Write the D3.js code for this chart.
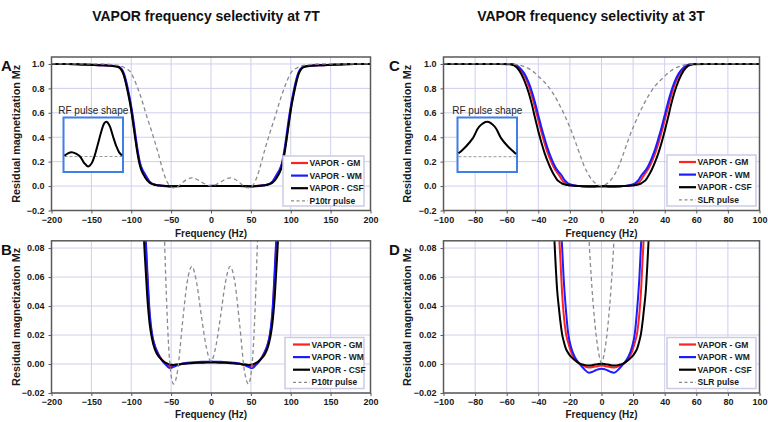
<!DOCTYPE html>
<html><head><meta charset="utf-8">
<script src="https://cdn.jsdelivr.net/npm/d3@7"></script>
<style>
body{margin:0;background:#fff}
svg{display:block}
text{font-family:Arial,"Liberation Sans",Helvetica,sans-serif}
</style>
</head><body>
<svg id="chart" width="768" height="422"></svg>
<script>
// ---------------- data ----------------
const freq7 = [-200,-180,-160,-140,-125,-118,-114,-110,-107,-104,-101,-98,-95,-92,-89,-86,-83,-80,-77,-74,-71,-68,-64,-60,-56,-52,-47,-42,-36,-30,-24,-18,-12,-6,0,6,12,18,24,30,36,42,47,52,56,60,64,68,71,74,77,80,83,86,89,92,95,98,101,104,107,110,114,118,125,140,160,180,200];
const gm7 = [1.0,1.0,0.995,0.99,0.985,0.979,0.967,0.925,0.86,0.77,0.67,0.545,0.405,0.28,0.18,0.125,0.095,0.062,0.034,0.02,0.0135,0.0092,0.005,0.002,-0.0002,-0.0015,-0.0012,-0.0004,0.0002,0.0006,0.0009,0.0011,0.0012,0.0013,0.0014,0.0013,0.0012,0.0011,0.0009,0.0006,0.0002,-0.0004,-0.0012,-0.0015,-0.0002,0.002,0.005,0.0092,0.0135,0.02,0.034,0.062,0.095,0.125,0.18,0.28,0.405,0.545,0.67,0.77,0.86,0.925,0.967,0.979,0.985,0.99,0.995,1.0,1.0];
const wm7 = [1.0,1.0,0.995,0.99,0.986,0.98,0.97,0.935,0.875,0.79,0.69,0.57,0.43,0.295,0.19,0.135,0.1,0.066,0.036,0.021,0.0135,0.009,0.0045,0.0015,-0.0009,-0.0028,-0.002,-0.0008,0.0002,0.0008,0.0011,0.0013,0.0015,0.0016,0.0017,0.0016,0.0015,0.0013,0.0011,0.0008,0.0002,-0.0008,-0.002,-0.0028,-0.0009,0.0015,0.0045,0.009,0.0135,0.021,0.036,0.066,0.1,0.135,0.19,0.295,0.43,0.57,0.69,0.79,0.875,0.935,0.97,0.98,0.986,0.99,0.995,1.0,1.0];
const csf7 = [1.0,1.0,0.995,0.99,0.985,0.978,0.965,0.92,0.85,0.76,0.66,0.53,0.39,0.26,0.165,0.11,0.075,0.047,0.028,0.0175,0.011,0.0072,0.0042,0.002,0.0006,-0.0004,-0.0006,-0.0003,0.0001,0.0004,0.0006,0.0008,0.0009,0.001,0.001,0.001,0.0009,0.0008,0.0006,0.0004,0.0001,-0.0003,-0.0006,-0.0004,0.0006,0.002,0.0042,0.0072,0.011,0.0175,0.028,0.047,0.075,0.11,0.165,0.26,0.39,0.53,0.66,0.76,0.85,0.92,0.965,0.978,0.985,0.99,0.995,1.0,1.0];
const p10tr = [1.0,1.0,1.0,1.0,0.995,0.99,0.984,0.975,0.965,0.953,0.935,0.9,0.855,0.805,0.75,0.69,0.625,0.56,0.5,0.44,0.375,0.31,0.215,0.12,0.048,0.003,-0.0138,-0.005,0.027,0.056,0.0674,0.056,0.033,0.012,0.0018,0.012,0.033,0.056,0.0674,0.056,0.027,-0.005,-0.0138,0.003,0.048,0.12,0.215,0.31,0.375,0.44,0.5,0.56,0.625,0.69,0.75,0.805,0.855,0.9,0.935,0.953,0.965,0.975,0.984,0.99,0.995,1.0,1.0,1.0,1.0];

const freq3 = [-100,-80,-65,-58,-55,-52,-49,-46,-44,-42,-40,-38,-36,-34,-32,-30,-28,-27,-26,-25,-24,-22.5,-21,-19.5,-17,-14,-11,-8,-6,-4,-2,0,2,4,6,8,11,14,17,19.5,21,22.5,24,25,26,27,28,30,32,34,36,38,40,42,44,46,49,52,55,58,65,80,100];
const gm3 = [1,1,1,0.999,0.992,0.965,0.91,0.82,0.735,0.64,0.54,0.44,0.35,0.27,0.205,0.15,0.11,0.092,0.072,0.05,0.035,0.021,0.0145,0.009,0.0035,0.0002,-0.0015,-0.0024,-0.0022,-0.0018,-0.0014,-0.0011,-0.0014,-0.0018,-0.0022,-0.0024,-0.0015,0.0002,0.0035,0.009,0.0145,0.021,0.035,0.05,0.072,0.092,0.11,0.15,0.205,0.27,0.35,0.44,0.54,0.64,0.735,0.82,0.91,0.965,0.992,0.999,1,1,1];
const wm3 = [1,1,1,0.999,0.994,0.972,0.925,0.845,0.77,0.68,0.58,0.48,0.39,0.305,0.235,0.175,0.13,0.115,0.1,0.082,0.06,0.037,0.0204,0.0125,0.005,0.0002,-0.0035,-0.006,-0.0055,-0.0045,-0.0036,-0.0032,-0.0036,-0.0045,-0.0055,-0.006,-0.0035,0.0002,0.005,0.0125,0.0204,0.037,0.06,0.082,0.1,0.115,0.13,0.175,0.235,0.305,0.39,0.48,0.58,0.68,0.77,0.845,0.925,0.972,0.994,0.999,1,1,1];
const csf3 = [1,1,1,0.998,0.985,0.945,0.87,0.76,0.665,0.555,0.45,0.355,0.27,0.2,0.14,0.09,0.05,0.039,0.029,0.021,0.016,0.0105,0.0075,0.0052,0.0028,0.0004,-0.0006,-0.001,-0.0008,-0.0004,0,0.0002,0,-0.0004,-0.0008,-0.001,-0.0006,0.0004,0.0028,0.0052,0.0075,0.0105,0.016,0.021,0.029,0.039,0.05,0.09,0.14,0.2,0.27,0.355,0.45,0.555,0.665,0.76,0.87,0.945,0.985,0.998,1,1,1];
const slr = [1,1,1,1,0.997,0.99,0.978,0.962,0.945,0.925,0.9,0.875,0.85,0.82,0.785,0.745,0.7,0.675,0.65,0.625,0.598,0.555,0.51,0.465,0.38,0.27,0.165,0.088,0.052,0.026,0.009,0.0008,0.009,0.026,0.052,0.088,0.165,0.27,0.38,0.465,0.51,0.555,0.598,0.625,0.65,0.675,0.7,0.745,0.785,0.82,0.85,0.875,0.9,0.925,0.945,0.962,0.978,0.99,0.997,1,1,1,1];

const xTicks7 = [-200,-150,-100,-50,0,50,100,150,200];
const xTicks3 = [-100,-80,-60,-40,-20,0,20,40,60,80,100];
const yTicksFull = [-0.2,0,0.2,0.4,0.6,0.8,1.0];
const yTicksZoom = [-0.02,0,0.02,0.04,0.06,0.08];

const names7 = ["VAPOR - GM","VAPOR - WM","VAPOR - CSF","P10tr pulse"];
const names3 = ["VAPOR - GM","VAPOR - WM","VAPOR - CSF","SLR pulse"];

// RF pulse shape insets (normalised time, relative amplitude)
const pulseT7 = [0,0.06,0.125,0.2,0.27,0.34,0.41,0.47,0.52,0.58,0.64,0.69,0.73,0.78,0.845,0.9,0.95,1.0];
const pulseA7 = [0.02,0.09,0.12,0.08,0.0,-0.18,-0.29,-0.2,0.0,0.35,0.72,0.95,1.0,0.9,0.57,0.3,0.12,0.03];
const pulseT3 = [0,0.06,0.13,0.25,0.36,0.5,0.63,0.74,0.86,0.94,1.0];
const pulseA3 = [0.1,0.18,0.29,0.53,0.86,1.0,0.86,0.53,0.29,0.17,0.08];

const titles = ["VAPOR frequency selectivity at 7T","VAPOR frequency selectivity at 3T"];

// ---------------- styles ----------------
const colors = ["#ff2020","#1c1cff","#000000","#8a8a8a"];
const gridColor = "#cfcfee";
const borderColor = "#5a5a5a";
const textColor = "#1a1a1a";

const svg = d3.select("#chart");

function panel(cfg){
  const g = svg.append("g");
  const x = d3.scaleLinear().domain(cfg.xdom).range([cfg.x0, cfg.x1]);
  const y = d3.scaleLinear().domain(cfg.ydom).range([cfg.yb, cfg.yt]);
  const id = "clip" + cfg.letter;
  svg.append("clipPath").attr("id", id).append("rect")
    .attr("x", cfg.x0).attr("y", cfg.yt).attr("width", cfg.x1 - cfg.x0).attr("height", cfg.yb - cfg.yt);

  // grid
  g.append("g").selectAll("line").data(cfg.xticks).join("line")
    .attr("x1", d => x(d)).attr("x2", d => x(d)).attr("y1", cfg.yt).attr("y2", cfg.yb)
    .attr("stroke", gridColor).attr("stroke-width", 1);
  g.append("g").selectAll("line").data(cfg.yticks).join("line")
    .attr("x1", cfg.x0).attr("x2", cfg.x1).attr("y1", d => y(d)).attr("y2", d => y(d))
    .attr("stroke", gridColor).attr("stroke-width", 1);

  // series
  const lg = g.append("g").attr("clip-path", `url(#${id})`);
  cfg.series.forEach((vals, i) => {
    const pts = cfg.freq.map((f, k) => [f, vals[k]]);
    const line = d3.line().x(d => x(d[0])).y(d => y(d[1])).curve(d3.curveMonotoneX);
    lg.append("path").attr("d", line(pts)).attr("fill", "none")
      .attr("stroke", colors[i])
      .attr("stroke-width", i === 3 ? 1.3 : 2)
      .attr("stroke-dasharray", i === 3 ? "4,3" : null)
      .attr("stroke-linejoin", "round");
  });

  // border
  g.append("rect").attr("x", cfg.x0).attr("y", cfg.yt).attr("width", cfg.x1 - cfg.x0).attr("height", cfg.yb - cfg.yt)
    .attr("fill", "none").attr("stroke", borderColor).attr("stroke-width", 1.5);

  // axes
  const ax = g.append("g").attr("transform", `translate(0,${cfg.yb})`)
    .call(d3.axisBottom(x).tickValues(cfg.xticks).tickSize(3).tickPadding(3).tickFormat(d3.format("d")));
  const ay = g.append("g").attr("transform", `translate(${cfg.x0},0)`)
    .call(d3.axisLeft(y).tickValues(cfg.yticks).tickSize(3).tickPadding(4).tickFormat(cfg.yfmt));
  [ax, ay].forEach(a => {
    a.select(".domain").remove();
    a.selectAll(".tick line").attr("stroke", borderColor);
    a.selectAll(".tick text").attr("font-size", 9).attr("font-weight", "bold").attr("fill", textColor)
      .attr("font-family", "Arial, 'Liberation Sans', sans-serif");
  });

  // axis titles
  g.append("text").attr("x", (cfg.x0 + cfg.x1) / 2).attr("y", cfg.xTitleY).attr("text-anchor", "middle")
    .attr("font-size", 10).attr("font-weight", "bold").attr("fill", textColor).text("Frequency (Hz)");
  g.append("text").attr("transform", `translate(${cfg.yTitleX},${(cfg.yt + cfg.yb) / 2}) rotate(-90)`)
    .attr("text-anchor", "middle").attr("font-size", 10.8).attr("font-weight", "bold").attr("fill", textColor)
    .text("Residual magnetization Mz");

  // panel letter
  g.append("text").attr("x", cfg.letterX).attr("y", cfg.letterY).attr("font-size", 15).attr("font-weight", "bold")
    .attr("fill", "#111").text(cfg.letter);

  // legend
  const L = cfg.legend;
  const lgd = g.append("g");
  lgd.append("rect").attr("x", L.x).attr("y", L.y).attr("width", L.w).attr("height", L.h)
    .attr("fill", "#fff").attr("stroke", "#cbcbe6").attr("stroke-width", 1.5);
  cfg.names.forEach((n, i) => {
    const ry = L.y + 7 + i * 12.6;
    lgd.append("line").attr("x1", L.x + L.sw0).attr("x2", L.x + L.sw1).attr("y1", ry).attr("y2", ry)
      .attr("stroke", colors[i]).attr("stroke-width", i === 3 ? 1.2 : 2.2)
      .attr("stroke-dasharray", i === 3 ? "3,2.5" : null);
    lgd.append("text").attr("x", L.x + L.sw1 + 1.5).attr("y", ry + 3).attr("font-size", 8.5).attr("font-weight", "bold")
      .attr("fill", textColor).text(n);
  });

  // inset
  if (cfg.inset) {
    const I = cfg.inset;
    const ig = g.append("g");
    ig.append("text").attr("x", (I.x0 + I.x1) / 2).attr("y", I.y0 - 4).attr("text-anchor", "middle")
      .attr("font-size", 10).attr("fill", "#222").text("RF pulse shape");
    ig.append("rect").attr("x", I.x0).attr("y", I.y0).attr("width", I.x1 - I.x0).attr("height", I.y1 - I.y0)
      .attr("fill", "#fff").attr("stroke", "#3f7fe8").attr("stroke-width", 2);
    const ix = d3.scaleLinear().domain([0, 1]).range([I.x0 + 1, I.x1 - 1]);
    const iy = d3.scaleLinear().domain([0, 1]).range([I.base, I.peak]);
    ig.append("line").attr("x1", I.x0 + 1).attr("x2", I.x1 - 1).attr("y1", iy(0)).attr("y2", iy(0))
      .attr("stroke", "#999").attr("stroke-width", 1).attr("stroke-dasharray", "3,2");
    const pts = I.t.map((t, k) => [t, I.a[k]]);
    ig.append("path").attr("d", d3.line().x(d => ix(d[0])).y(d => iy(d[1])).curve(d3.curveCatmullRom)(pts))
      .attr("fill", "none").attr("stroke", "#000").attr("stroke-width", 2);
  }
}

const fmt1 = d3.format(".1f"), fmt2 = d3.format(".2f");

panel({letter:"A", x0:51.5, x1:370.5, yt:57, yb:210.5, xdom:[-200,200], ydom:[-0.2,1.057],
  freq:freq7, series:[gm7,wm7,csf7,p10tr], xticks:xTicks7, yticks:yTicksFull, yfmt:fmt1,
  xTitleY:237, yTitleX:20, letterX:1, letterY:71, names:names7,
  legend:{x:283, y:156, w:81, h:50, sw0:8, sw1:25},
  inset:{x0:63.5, x1:123, y0:117.5, y1:172, base:156.5, peak:121.7, t:pulseT7, a:pulseA7}});
panel({letter:"B", x0:51.5, x1:370.5, yt:240.8, yb:393, xdom:[-200,200], ydom:[-0.02,0.085],
  freq:freq7, series:[gm7,wm7,csf7,p10tr], xticks:xTicks7, yticks:yTicksZoom, yfmt:fmt2,
  xTitleY:418, yTitleX:20, letterX:1, letterY:255, names:names7,
  legend:{x:285, y:337.5, w:79, h:51, sw0:8, sw1:25}});
panel({letter:"C", x0:443.5, x1:759.5, yt:57, yb:210.5, xdom:[-100,100], ydom:[-0.2,1.057],
  freq:freq3, series:[gm3,wm3,csf3,slr], xticks:xTicks3, yticks:yTicksFull, yfmt:fmt1,
  xTitleY:237, yTitleX:411, letterX:389, letterY:71, names:names3,
  legend:{x:667, y:155, w:89, h:51, sw0:12, sw1:29},
  inset:{x0:457.5, x1:517, y0:117.5, y1:172, base:156.7, peak:121.7, t:pulseT3, a:pulseA3}});
panel({letter:"D", x0:443.5, x1:759.5, yt:240.8, yb:393, xdom:[-100,100], ydom:[-0.02,0.085],
  freq:freq3, series:[gm3,wm3,csf3,slr], xticks:xTicks3, yticks:yTicksZoom, yfmt:fmt2,
  xTitleY:418, yTitleX:411, letterX:389, letterY:255, names:names3,
  legend:{x:667, y:337.5, w:89, h:51, sw0:12, sw1:29}});

svg.append("text").attr("x", 206).attr("y", 21).attr("text-anchor", "middle").attr("font-size", 14)
  .attr("font-weight", "bold").attr("fill", "#111").text(titles[0]);
svg.append("text").attr("x", 591).attr("y", 21).attr("text-anchor", "middle").attr("font-size", 14)
  .attr("font-weight", "bold").attr("fill", "#111").text(titles[1]);
</script>
</body></html>
